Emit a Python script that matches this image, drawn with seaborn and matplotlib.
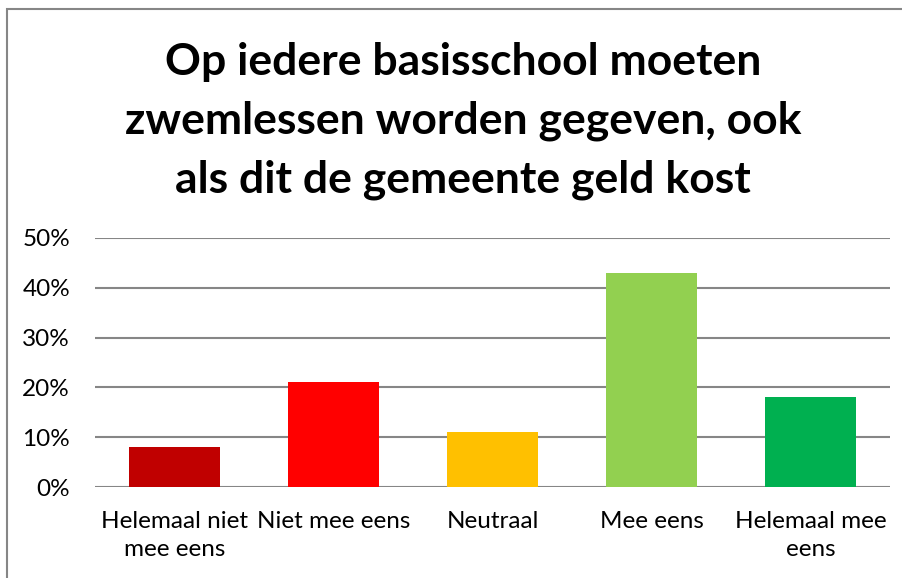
import pandas as pd
import seaborn as sns
import matplotlib.pyplot as plt
from matplotlib.patches import Rectangle
from matplotlib.ticker import PercentFormatter
plt.switch_backend('agg')

categories = ['Helemaal niet\nmee eens', 'Niet mee eens', 'Neutraal', 'Mee eens', 'Helemaal mee\neens']
values = [0.08, 0.21, 0.11, 0.43, 0.18]
colors = ['#C00000', '#FF0000', '#FFC000', '#92D050', '#00B050']
title = 'Op iedere basisschool moeten\nzwemlessen worden gegeven, ook\nals dit de gemeente geld kost'

sns.set_style('white')
plt.rcParams['font.family'] = ['Lato', 'DejaVu Sans']

df = pd.DataFrame({'cat': categories, 'val': values})

fig = plt.figure(figsize=(9.03, 5.78), dpi=100)
ax = fig.add_axes([95 / 903, 91 / 578, 795 / 903, 249 / 578])
sns.barplot(data=df, x='cat', y='val', hue='cat', palette=colors, legend=False,
            width=0.575, saturation=1, linewidth=0, ax=ax)

ax.set_ylim(0, 0.5)
ax.set_yticks([0, 0.1, 0.2, 0.3, 0.4, 0.5])
ax.yaxis.set_major_formatter(PercentFormatter(1.0, decimals=0))
ax.yaxis.grid(True, color='#868686', linewidth=1.5)
ax.set_axisbelow(True)
for s in ax.spines.values():
    s.set_visible(False)
ax.tick_params(axis='both', length=0, labelsize=17.5, colors='black')
ax.tick_params(axis='y', pad=18)
ax.tick_params(axis='x', pad=17)
ax.set_xlabel('')
ax.set_ylabel('')
for lbl in ax.get_xticklabels():
    lbl.set_linespacing(1.45)

fig.text(463 / 903, 1 - 121 / 578, title, ha='center', va='center',
         fontsize=32, fontweight='bold', linespacing=1.55, color='black')

fig.patches.append(Rectangle((7 / 903, -0.1), 1.5, 1 - 9 / 578 + 0.1,
                             transform=fig.transFigure, fill=False,
                             edgecolor='#868686', linewidth=1.5))

fig.savefig('out.png', dpi=100)
